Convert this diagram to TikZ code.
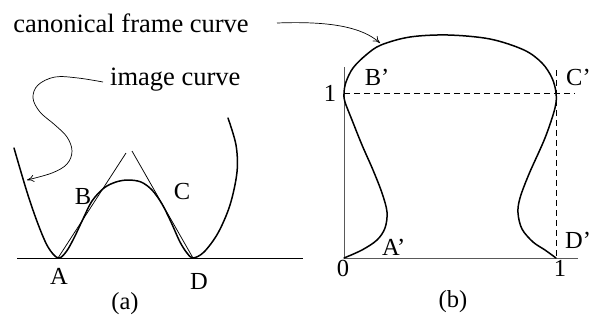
\documentclass[tikz,border=0pt]{standalone}
\usepackage{fontspec}
\setmainfont{Liberation Serif}
\usetikzlibrary{arrows.meta}
\tikzset{
  thickcurve/.style={line width=1.5pt, line join=round, line cap=round},
  thinline/.style={line width=0.75pt},
  axisline/.style={line width=0.9pt, draw=black!65},
  dashline/.style={line width=0.8pt, dash pattern=on 6pt off 4pt},
  pointer/.style={line width=0.7pt, -{To[length=7pt,width=7pt]}},
  lbl/.style={inner sep=0pt, font=\fontsize{24.5}{28}\selectfont},
  captext/.style={inner sep=0pt, font=\fontsize{26.5}{30}\selectfont}
}
\begin{document}
\begin{tikzpicture}[x=1pt,y=-1pt]
\useasboundingbox (0,0) rectangle (592,322);
% ---------- panel (a) ----------
\coordinate (base0) at (17,258);
\coordinate (base1) at (303,258);
\draw[thinline] (base0) -- (base1);
\coordinate (Apt) at (58,258);
\coordinate (Dpt) at (193,258);
\coordinate (tB) at (126,153);
\coordinate (tC) at (132,151);
\draw[thinline] (Apt) -- (tB);
\draw[thinline] (tC) -- (Dpt);
\draw[thickcurve] plot[smooth, tension=0.55] coordinates {
 (14,148) (27,192) (38,224) (48,247) (58,258) (66,252) (74,238) (83,219)
 (92,201) (104,188) (116,182) (128,180) (141,182) (152,190) (162,204)
 (171,222) (180,242) (187,253) (193,258)
 (204,252) (218,233) (230,205) (237,172) (236,145) (228,118)};
\node[lbl] (B) at (83,197) {B};
\node[lbl] (C) at (182,192) {C};
\node[lbl] (A) at (59,276) {A};
\node[lbl] (D) at (199,281) {D};
\node[lbl] (cap-a) at (125,304) {(a)};
\node[captext, anchor=west] (img) at (110,80) {image curve};
\coordinate (imgtip) at (27,180);
\draw[pointer] plot[smooth, tension=0.6] coordinates {
 (103,82) (78,78) (55,77) (38,85) (33,98) (40,112) (55,125) (67,137)
 (72,151) (67,164) (52,173) (imgtip)};
% ---------- panel (b) ----------
\coordinate (O) at (344,258);
\coordinate (ytop) at (344,67);
\coordinate (xend) at (578,258);
\draw[axisline] (ytop) -- (O) -- (xend);
\coordinate (h0) at (344,93);
\coordinate (h1) at (575,93);
\coordinate (v0) at (556,70);
\coordinate (v1) at (556,258);
\draw[dashline] (h0) -- (h1);
\draw[dashline] (v0) -- (v1);
\draw[thickcurve] plot[smooth, tension=0.55] coordinates {
 (344,258) (362,250) (377,240) (385,228) (387,212) (382,193) (373,170)
 (362,145) (352,120) (345,102) (344,93) (346,82) (353,68) (366,55)
 (381,45) (410,37) (448,35) (490,39) (524,50) (542,63) (552,78) (556,93)
 (555,108) (545,138) (529,174) (520,198) (518,213) (522,229) (533,242)
 (545,250) (556,258)};
\node[lbl] (Bp) at (377,77) {B’};
\node[lbl, anchor=west] (Cp) at (566,77) {C’};
\node[lbl, anchor=west] (Dp) at (565,240) {D’};
\node[lbl, anchor=west] (Ap) at (382,247) {A’};
\node[lbl] (one-y) at (330,93) {1};
\node[lbl] (zero) at (343,268) {0};
\node[lbl] (one-x) at (560,268) {1};
\node[lbl] (cap-b) at (453,302) {(b)};
\node[captext] (canon) at (131,23) {canonical frame curve};
\coordinate (canontip) at (380,43);
\draw[pointer] (277,23) .. controls (330,21) and (362,27) .. (canontip);
\end{tikzpicture}
\end{document}
